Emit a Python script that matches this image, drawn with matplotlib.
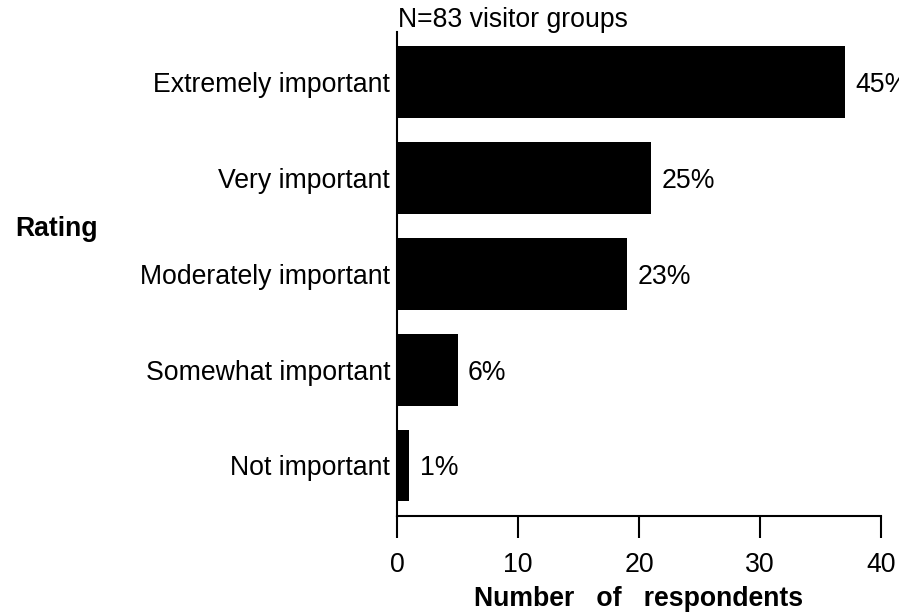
import matplotlib
matplotlib.use("Agg")
import matplotlib.pyplot as plt

plt.rcParams['font.family'] = ['Liberation Sans', 'DejaVu Sans']

categories = ["Not important", "Somewhat important", "Moderately important",
              "Very important", "Extremely important"]
counts = [1, 5, 19, 21, 37]
percent_labels = ["1%", "6%", "23%", "25%", "45%"]
x_ticks = [0, 10, 20, 30, 40]
subtitle = "N=83 visitor groups"

W, H = 899, 615
fig = plt.figure(figsize=(W / 100, H / 100), dpi=100)
ax = fig.add_axes([397 / W, 1 - 516 / H, (881 - 397) / W, (516 - 32) / H])

ypos = list(range(len(categories)))
ax.barh(ypos, counts, height=0.75, color="black", zorder=2)

ax.set_xlim(0, 40)
ax.set_ylim(-0.527, 4.521)
ax.set_xticks(x_ticks)
ax.set_xticklabels([str(t) for t in x_ticks], fontsize=19.2)
ax.set_yticks(ypos)
ax.set_yticklabels(categories, fontsize=19.2)

for side in ("top", "right"):
    ax.spines[side].set_visible(False)
for side in ("left", "bottom"):
    ax.spines[side].set_linewidth(1.5)

ax.tick_params(axis="x", direction="out", length=16, width=1.5, pad=10)
ax.tick_params(axis="y", length=0, pad=5)

# percentage annotation just past the end of each bar
for y, c, lab in zip(ypos, counts, percent_labels):
    ax.annotate(lab, xy=(c, y), xytext=(7.5, 0), textcoords="offset points",
                va="center_baseline", ha="left", fontsize=19.2,
                annotation_clip=False)

fig.text(398 / W, 1 - 27 / H, subtitle, fontsize=19.2, ha="left", va="baseline")
fig.text(57 / W, 1 - 236 / H, "Rating", fontsize=19.2, fontweight="bold",
         ha="center", va="baseline")
ax.set_xlabel("Number   of   respondents", fontsize=19.2, fontweight="bold",
              labelpad=6)

fig.savefig("out.png", dpi=100)
